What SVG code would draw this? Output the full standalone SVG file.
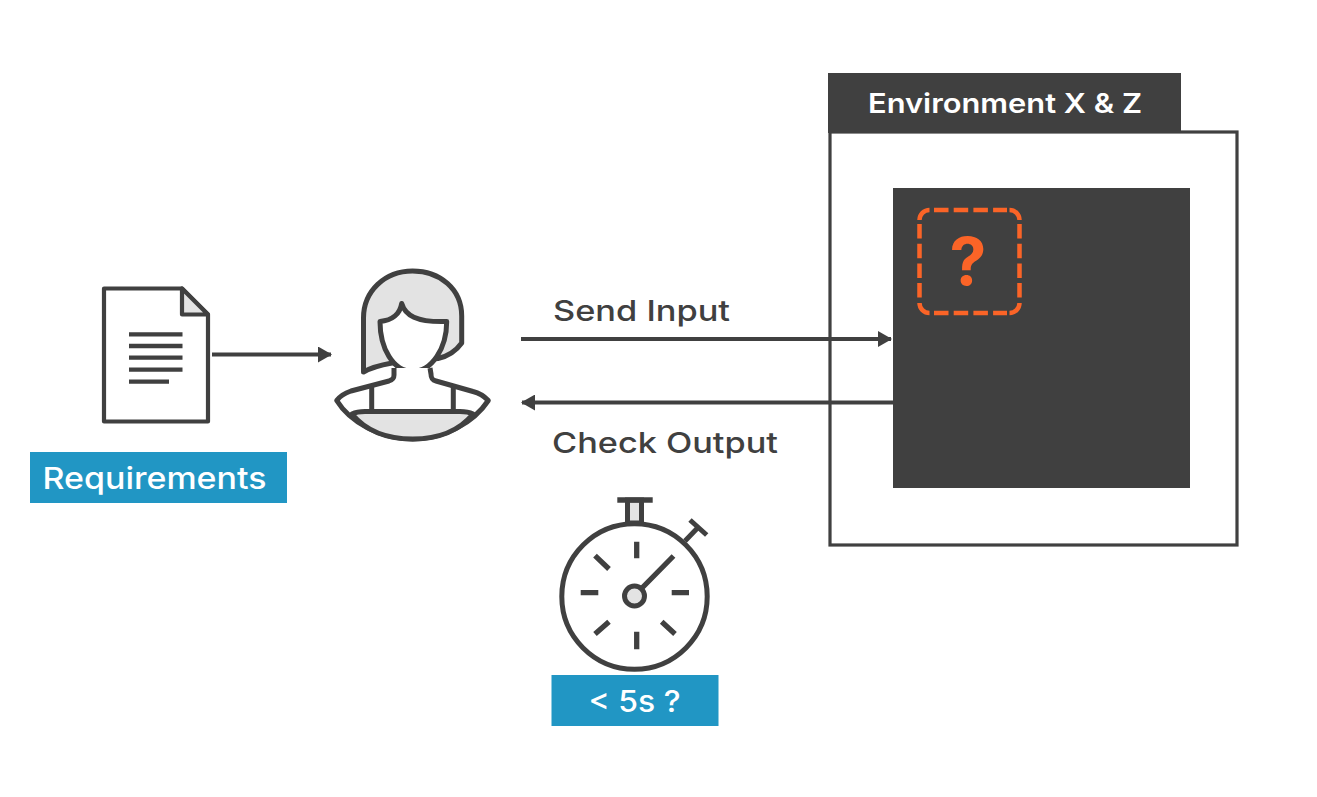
<svg xmlns="http://www.w3.org/2000/svg" width="1317" height="797" viewBox="0 0 1317 797">
<style>
.i{fill:none;stroke:#404040;stroke-width:5;stroke-linejoin:round}
.d{fill:none;stroke:#404040;stroke-width:4.2;stroke-linejoin:round}
.g{fill:#e3e3e3}
.w{fill:#fff}
.t{font-family:Inter,"Noto Sans","Liberation Sans",sans-serif;font-weight:600}
.m{font-weight:500;fill:#404040;font-size:29px}
.n{font-weight:500;fill:#fff;font-size:30px}
.c{fill:none;stroke:#404040;stroke-width:4}
.b{fill:#2196c4}
.o{fill:none;stroke:#fb6427;stroke-width:4.5}
</style>
<defs>
<marker id="a" markerUnits="userSpaceOnUse" markerWidth="14" markerHeight="16" refX="13" refY="8" orient="auto"><path d="M0 0L14 8L0 16Z" fill="#404040"/></marker>
</defs>
<rect width="1317" height="797" fill="#fff"/>
<g id="environment">
<rect x="830" y="132" width="407" height="413" fill="#fff" stroke="#404040" stroke-width="3.2"/>
<rect x="828" y="73" width="353" height="60" fill="#404040"/>
<text class="t" x="1005" y="113" font-size="27" fill="#fff" text-anchor="middle" textLength="274" lengthAdjust="spacingAndGlyphs">Environment X &amp; Z</text>
<rect x="893" y="188" width="297" height="300" fill="#404040"/>
</g>
<g id="unknown-component">
<path class="o" d="M919.500 220A10 10 0 0 1 929.500 210M1009.500 210A10 10 0 0 1 1019.500 220M1019.500 303A10 10 0 0 1 1009.500 313M929.500 313A10 10 0 0 1 919.500 303"/>
<path class="o" d="M934 210H1007M919.500 224V300M1019.500 224V300M934 313H1007" stroke-dasharray="14.500 5.200"/>
<text x="968" y="285" font-size="66" font-weight="700" fill="#fb6427" text-anchor="middle" font-family="Inter,'Liberation Sans',sans-serif">?</text>
</g>
<g id="connectors">
<path class="c" d="M212 354.500H331" marker-end="url(#a)"/>
<path class="c" d="M521 339H891" marker-end="url(#a)"/>
<path class="c" d="M893 402.500H522" marker-end="url(#a)"/>
</g>
<g id="requirements">
<path class="d w" d="M104 288.500H182L208 314.500V421.500H104Z"/>
<path class="d g" d="M182 288.500V314.500H208Z"/>
<path d="M129 334.300H182.500M129 346H182.500M129 357.700H182.500M129 369.700H182.500M129 381.700H169" fill="none" stroke="#404040" stroke-width="4.300"/>
<rect class="b" x="30" y="452" width="257" height="51"/>
<text class="t n" x="42.500" y="489" textLength="224" lengthAdjust="spacingAndGlyphs">Requirements</text>
</g>
<g id="person">
<path class="i g" d="M363.500 372C372 367 381 365 392 363L438 358.500C449 356 456 351 461.700 343V316C461.700 289 440 271 412.500 271C385 271 363.500 291 363.500 318Z"/>
<path class="i w" d="M380 321.500C392 320.500 400 314 401.700 303.500C405 315 416 322.500 446.700 321.500C446.700 348 432 371.500 412.500 371.500C393 371.500 380 348 380 321.500Z"/>
<path class="i w" d="M394 368V375C394 379 392 380 389 381L351 391C345 393 340 396 336.700 400.500C350 422 380 439 412.700 439C445 439 474 422 488.300 400.500C484 396 479 393 473 391.500L436 381C432 380 431 378 431 374L430 368"/>
<path class="i g" d="M352 414C356 412 360 411.500 365 411.500H460C465 411.500 469 412 473 414C459 431 437 439 412.700 439C388 439 366 431 352 414Z"/>
<path d="M371.700 386V411M453.300 386V411" fill="none" stroke="#404040" stroke-width="5"/>
</g>
<g id="labels">
<text class="t m" x="553" y="321" textLength="177" lengthAdjust="spacingAndGlyphs">Send Input</text>
<text class="t m" x="552" y="453" textLength="226" lengthAdjust="spacingAndGlyphs">Check Output</text>
</g>
<g id="stopwatch">
<path d="M627.500 500H641.500V523H627.500Z" fill="#e3e3e3" stroke="#404040" stroke-width="5"/>
<path d="M617.300 500H652.700" fill="none" stroke="#404040" stroke-width="5.500"/>
<path d="M685 541L697.500 528M690 520L706.700 535" fill="none" stroke="#404040" stroke-width="5"/>
<circle class="i w" cx="634.500" cy="596.500" r="72.700"/>
<path d="M636.700 541.700V558.300M636.700 631.700V649.300M580.700 592.700H598.300M671.700 592.700H689M595 555.700L609 569M595 634L609 621.700M661.700 621.700L675 634M641 589L673.500 556" fill="none" stroke="#404040" stroke-width="5.300"/>
<circle class="i g" cx="634.500" cy="596" r="10"/>
<rect class="b" x="551.500" y="675" width="167" height="51"/>
<text class="t n" x="634.500" y="712" text-anchor="middle" textLength="92" lengthAdjust="spacingAndGlyphs">&lt; 5s ?</text>
</g>
</svg>
